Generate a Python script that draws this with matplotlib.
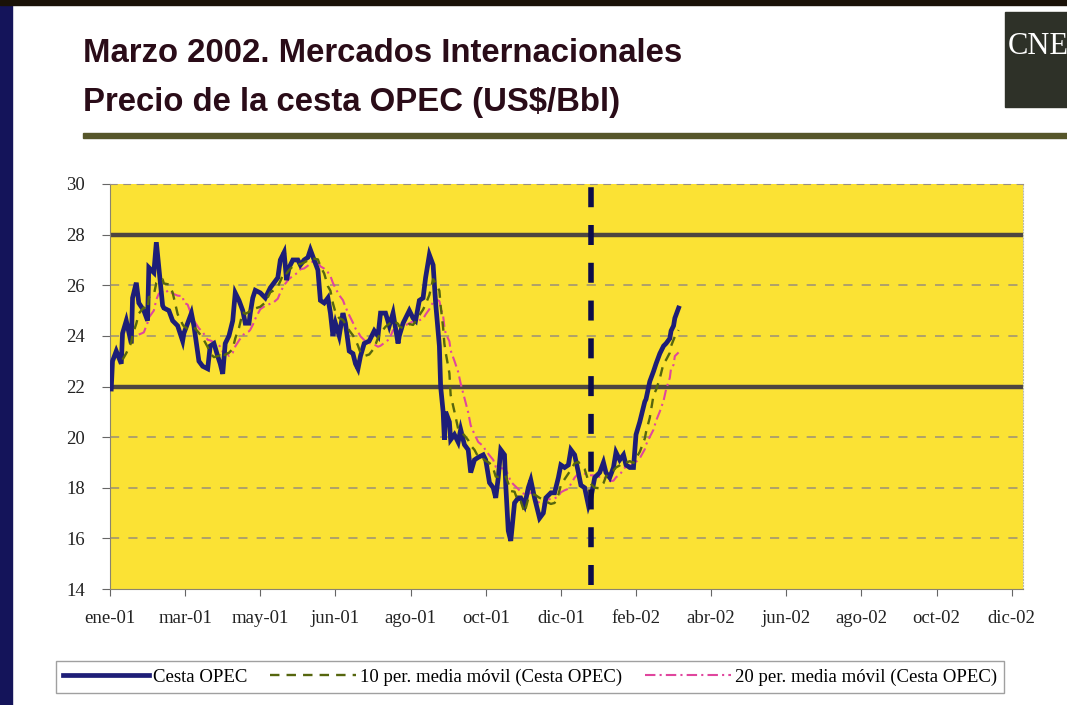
import matplotlib
matplotlib.use("Agg")
import matplotlib.pyplot as plt
from matplotlib.patches import Rectangle
import numpy as np
import pandas as pd

# Precio diario aproximado de la cesta OPEC (US$/Bbl)
fechas = [
    "2001-01-02", "2001-01-03", "2001-01-06", "2001-01-10", "2001-01-11", "2001-01-14",
    "2001-01-18", "2001-01-19", "2001-01-22", "2001-01-24", "2001-01-28", "2001-01-31",
    "2001-02-01", "2001-02-05", "2001-02-07", "2001-02-09", "2001-02-12", "2001-02-13",
    "2001-02-17", "2001-02-20", "2001-02-24", "2001-02-28", "2001-03-01", "2001-03-04",
    "2001-03-07", "2001-03-09", "2001-03-13", "2001-03-16", "2001-03-20", "2001-03-22",
    "2001-03-25", "2001-03-28", "2001-03-30", "2001-04-01", "2001-04-03", "2001-04-06",
    "2001-04-09", "2001-04-11", "2001-04-14", "2001-04-17", "2001-04-19", "2001-04-22",
    "2001-04-23", "2001-04-25", "2001-04-27", "2001-05-01", "2001-05-05", "2001-05-09",
    "2001-05-12", "2001-05-15", "2001-05-17", "2001-05-20", "2001-05-22", "2001-05-24",
    "2001-05-27", "2001-05-31", "2001-06-02", "2001-06-05", "2001-06-08", "2001-06-10",
    "2001-06-13", "2001-06-16", "2001-06-18", "2001-06-21", "2001-06-24", "2001-06-26",
    "2001-06-28", "2001-06-30", "2001-07-03", "2001-07-06", "2001-07-08", "2001-07-11",
    "2001-07-14", "2001-07-16", "2001-07-18", "2001-07-20", "2001-07-23", "2001-07-27",
    "2001-07-31", "2001-08-03", "2001-08-05", "2001-08-09", "2001-08-12", "2001-08-15",
    "2001-08-19", "2001-08-20", "2001-08-23", "2001-08-25", "2001-08-28", "2001-08-31",
    "2001-09-02", "2001-09-05", "2001-09-08", "2001-09-10", "2001-09-13", "2001-09-16",
    "2001-09-18", "2001-09-21", "2001-09-22", "2001-09-24", "2001-09-25", "2001-09-26",
    "2001-09-29", "2001-09-30", "2001-10-03", "2001-10-06", "2001-10-08", "2001-10-11",
    "2001-10-14", "2001-10-16", "2001-10-19", "2001-10-22", "2001-10-26", "2001-10-28",
    "2001-10-31", "2001-11-03", "2001-11-05", "2001-11-07", "2001-11-09", "2001-11-12",
    "2001-11-13", "2001-11-15", "2001-11-17", "2001-11-20", "2001-11-23", "2001-11-25",
    "2001-11-28", "2001-12-01", "2001-12-03", "2001-12-06", "2001-12-10", "2001-12-13",
    "2001-12-15", "2001-12-19", "2001-12-22", "2001-12-25", "2001-12-27", "2001-12-30",
    "2002-01-02", "2002-01-04", "2002-01-07", "2002-01-10", "2002-01-12", "2002-01-15",
    "2002-01-18", "2002-01-20", "2002-01-23", "2002-01-27", "2002-01-30", "2002-02-01",
    "2002-02-04", "2002-02-07", "2002-02-09", "2002-02-12", "2002-02-15", "2002-02-17",
    "2002-02-20", "2002-02-23", "2002-02-25", "2002-02-28", "2002-03-04", "2002-03-05",
    "2002-03-08", "2002-03-11", "2002-03-13", "2002-03-16", "2002-03-19", "2002-03-21",
    "2002-03-24", "2002-03-25", "2002-03-27", "2002-03-28", "2002-03-31",
]
cesta = [
    21.9, 23.0, 23.4, 22.9, 24.1, 24.6,
    23.7, 25.5, 26.1, 25.3, 25.0, 24.6,
    26.7, 26.5, 27.7, 26.7, 25.2, 25.1,
    25.0, 24.6, 24.4, 23.8, 24.1, 24.5,
    24.9, 24.4, 23.0, 22.8, 22.7, 23.6,
    23.7, 23.2, 22.9, 22.5, 23.7, 24.0,
    24.6, 25.7, 25.4, 25.0, 24.5, 24.5,
    24.9, 25.5, 25.8, 25.7, 25.5, 25.9,
    26.1, 26.3, 27.0, 27.3, 26.2, 26.7,
    27.0, 27.0, 26.8, 27.0, 27.1, 27.4,
    27.0, 26.6, 25.4, 25.3, 25.5, 24.9,
    24.0, 24.5, 24.0, 24.9, 24.5, 23.4,
    23.3, 22.9, 22.7, 23.2, 23.7, 23.8,
    24.2, 24.0, 24.9, 24.9, 24.4, 24.9,
    23.7, 24.0, 24.5, 24.7, 25.0, 24.7,
    24.6, 25.4, 25.5, 26.3, 27.2, 26.8,
    25.3, 23.6, 22.0, 21.0, 19.9, 21.0,
    20.6, 19.9, 20.1, 19.8, 20.3, 19.7,
    19.5, 18.6, 19.1, 19.2, 19.3, 19.1,
    18.2, 18.0, 17.6, 18.4, 19.5, 19.3,
    18.1, 16.3, 15.9, 17.4, 17.6, 17.6,
    17.3, 18.0, 18.3, 17.6, 16.8, 17.0,
    17.6, 17.8, 17.8, 18.4, 18.9, 18.8,
    18.9, 19.5, 19.3, 18.6, 18.1, 18.0,
    17.3, 17.6, 18.4, 18.6, 19.0, 18.6,
    18.4, 18.8, 19.4, 19.1, 19.3, 18.9,
    18.8, 18.8, 20.1, 20.6, 21.4, 21.5,
    22.2, 22.6, 22.9, 23.3, 23.6, 23.7,
    23.9, 24.2, 24.4, 24.7, 25.1,
]

etiquetas_x = ["ene-01", "mar-01", "may-01", "jun-01", "ago-01", "oct-01", "dic-01",
               "feb-02", "abr-02", "jun-02", "ago-02", "oct-02", "dic-02"]
niveles_y = [14, 16, 18, 20, 22, 24, 26, 28, 30]
banda_opec = [22, 28]
fecha_corte = "2002-01-20"

serie = pd.Series(cesta, index=pd.to_datetime(fechas))
# medias moviles de 10 y 20 sesiones (aprox. 14 y 28 dias naturales)
mm10 = serie.rolling("14D").mean()
mm20 = serie.rolling("28D").mean()
mm10[mm10.index < serie.index[0] + pd.Timedelta(days=9)] = np.nan
mm20[mm20.index < serie.index[0] + pd.Timedelta(days=22)] = np.nan

W, H = 1067, 705
fig = plt.figure(figsize=(W / 100, H / 100), dpi=100)
fig.patch.set_facecolor("white")

# marco de la diapositiva
fig.patches.append(Rectangle((0, 0), 12 / W, 1, transform=fig.transFigure,
                             color="#14145a", zorder=0))
fig.patches.append(Rectangle((0, 1 - 5 / H), 1, 5 / H, transform=fig.transFigure,
                             color="#1a1208", zorder=0))
# logo CNE
fig.patches.append(Rectangle((1005 / W, 1 - 107 / H), 62 / W, 95 / H,
                             transform=fig.transFigure, color="#2e3128", zorder=1))
fig.text(1008 / W, 1 - 47 / H, "CNE", color="white", fontsize=22,
         family="Liberation Serif", va="center", ha="left", zorder=2)

titulo_font = ["Liberation Sans", "DejaVu Sans"]
fig.text(83 / W, 1 - 53 / H, "Marzo 2002. Mercados Internacionales", fontsize=23.7,
         fontweight="bold", color="#2a0c18", family=titulo_font, va="center")
fig.text(83 / W, 1 - 103 / H, "Precio de la cesta OPEC (US$/Bbl)", fontsize=23.7,
         fontweight="bold", color="#2a0c18", family=titulo_font, va="center")
fig.patches.append(Rectangle((83 / W, 1 - 138 / H), (W - 83) / W, 5 / H,
                             transform=fig.transFigure, color="#56562a", zorder=1))

ax = fig.add_axes([110 / W, 1 - 589 / H, 913 / W, 405 / H])
ax.set_facecolor("#fbe234")

for v in niveles_y[1:-1]:
    if v in banda_opec:
        ax.axhline(v, color="#4d4640", lw=3.2, zorder=1)
    else:
        ax.axhline(v, color="#9a8f78", lw=1.1, ls=(0, (6, 6)), zorder=1)

ax.plot(serie.index, serie.values, color="#1e1e78", lw=3.4, zorder=4,
        solid_joinstyle="miter", label="Cesta OPEC")
ax.plot(mm10.index, mm10.values, color="#56660e", lw=1.7, ls=(0, (4, 3)), zorder=5,
        label="10 per. media móvil (Cesta OPEC)")
ax.plot(mm20.index, mm20.values, color="#e0469e", lw=1.5, ls=(0, (5, 2, 1, 2)), zorder=3,
        label="20 per. media móvil (Cesta OPEC)")

ax.axvline(pd.Timestamp(fecha_corte), ymin=0.01, ymax=1.0, color="#0c0c4a", lw=4,
           ls=(0, (3.6, 3.2)), zorder=6)

inicio = pd.Timestamp("2001-01-01")
ax.set_xlim(inicio, pd.Timestamp("2002-12-31"))
ax.set_ylim(niveles_y[0], niveles_y[-1])
ax.set_xticks([inicio + pd.Timedelta(days=60 * i) for i in range(len(etiquetas_x))])
ax.set_xticklabels(etiquetas_x)
ax.set_yticks(niveles_y)

for lab in ax.get_xticklabels() + ax.get_yticklabels():
    lab.set_family("Liberation Serif")
    lab.set_fontsize(13.5)
    lab.set_color("#222222")
ax.tick_params(axis="x", length=5, pad=10, color="#666666")
ax.tick_params(axis="y", length=6, pad=12, color="#666666")

ax.spines["left"].set_color("#8a8470")
ax.spines["bottom"].set_color("#8a8470")
ax.spines["top"].set_color("#9a9080")
ax.spines["top"].set_linestyle((0, (6, 6)))
ax.spines["right"].set_color("#bbbbaa")
ax.spines["right"].set_linestyle(":")

leg = fig.legend(loc="center", bbox_to_anchor=(530 / W, 1 - 677 / H), ncol=3,
                 frameon=True, fancybox=False, handlelength=4.6, columnspacing=1.2,
                 handletextpad=0.2, borderpad=0.4,
                 prop={"family": "Liberation Serif", "size": 13.5})
leg.get_frame().set_edgecolor("#888888")
leg.get_frame().set_linewidth(1.0)

fig.savefig("out.png", dpi=100)
